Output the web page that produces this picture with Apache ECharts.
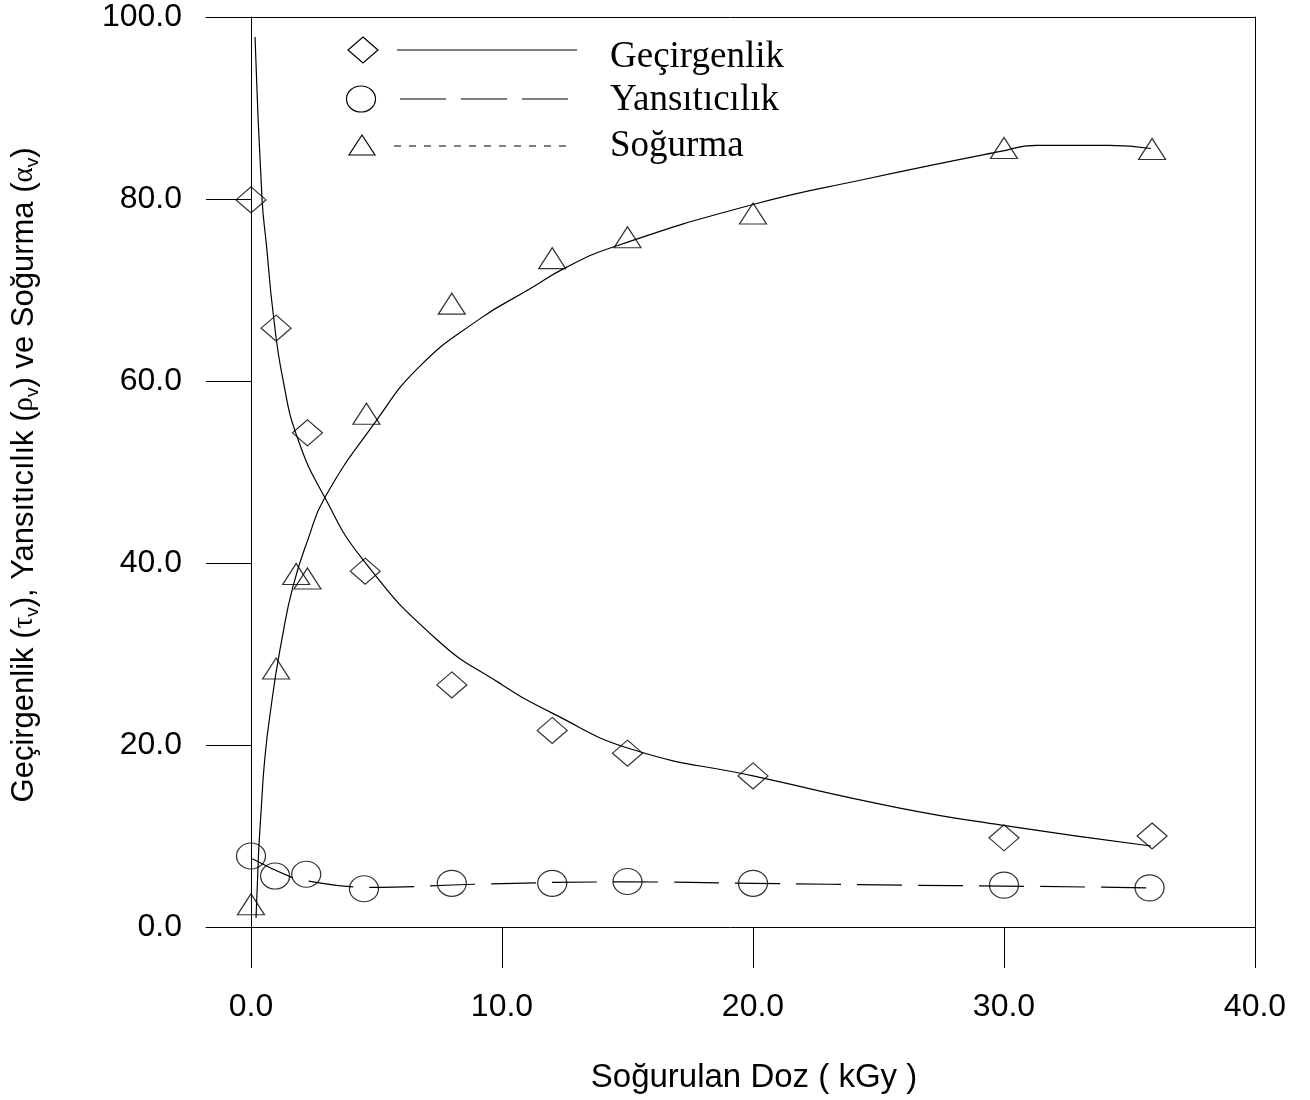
<!DOCTYPE html>
<html>
<head>
<meta charset="utf-8">
<script src="https://cdn.jsdelivr.net/npm/echarts@6/dist/echarts.min.js"></script>
<style>
html,body{margin:0;padding:0;background:#fff;}
#chart{width:1310px;height:1100px;}
</style>
</head>
<body>
<div id="chart"></div>
<script>
// ---- data ----
const doseT = [0, 1, 2.25, 4.55, 8, 12, 15, 20, 30, 35.9];
const gecirgenlik = [79.9, 65.8, 54.3, 39.1, 26.6, 21.6, 19.1, 16.6, 9.8, 10.0];
const doseR = [0, 0.96, 2.2, 4.5, 8, 12, 15, 20, 30, 35.8];
const yansiticilik = [7.8, 5.6, 5.8, 4.2, 4.8, 4.8, 5.0, 4.8, 4.6, 4.3];
const doseA = [0, 1, 1.8, 2.25, 4.6, 8, 12, 15, 20, 30, 35.9];
const sogurma = [2.5, 28.4, 38.8, 38.3, 56.4, 68.5, 73.5, 75.8, 78.4, 85.6, 85.5];

// fitted curves
const fitTx = [0.16, 0.44, 0.62, 0.88, 1.27, 1.87, 2.94, 4.45, 7.4, 9.9, 12.0, 15.2, 20, 25.8, 29.9, 35.85];
const fitTy = [97.8, 80.0, 74.8, 67.5, 60.2, 53.6, 47.2, 40.4, 31.6, 26.8, 23.5, 19.5, 16.6, 13.1, 11.2, 8.9];
const fitRx = [0.05, 1.67, 2.27, 4.06, 4.7, 8.9, 15, 20, 26, 30, 35.85];
const fitRy = [7.5, 5.4, 5.06, 4.4, 4.35, 4.7, 4.95, 4.8, 4.6, 4.5, 4.3];
const fitAx = [0.2, 0.48, 0.84, 1.23, 1.67, 2.27, 2.94, 4.93, 6.72, 9.1, 11.1, 12.5, 14.4, 20, 24.5, 29.8, 31.3, 34.2, 35.85];
const fitAy = [1.0, 16.2, 25.0, 31.6, 37.4, 42.6, 47.2, 55.4, 61.6, 66.8, 70.1, 72.4, 74.7, 79.4, 82.2, 85.2, 85.9, 85.9, 85.55];

const xTicks = [0, 10, 20, 30, 40];
const seriesNames = ['Geçirgenlik', 'Yansıtıcılık', 'Soğurma'];
const xTitle = 'Soğurulan Doz ( kGy )';

const zip = (a, b) => a.map((v, i) => [v, b[i]]);

const SANS = '"Liberation Sans", Arial, sans-serif';
const SERIF = '"Liberation Serif", "Times New Roman", serif';
const markerStyle = { color: 'rgba(0,0,0,0)', borderColor: '#000', borderWidth: 1.2 };
const lineBase = { color: '#000', width: 1.2 };

const chart = echarts.init(document.getElementById('chart'), null, { renderer: 'canvas' });

const option = {
  animation: false,
  backgroundColor: '#fff',
  grid: { left: 206, right: 55, top: 17, bottom: 173, containLabel: false },
  xAxis: [
    {
      type: 'value', min: -1.793, max: 40, position: 'bottom',
      axisLine: { show: true, onZero: false, lineStyle: { color: '#000', width: 1 } },
      axisTick: { show: true, customValues: xTicks, length: 41, inside: false, lineStyle: { color: '#000', width: 1 } },
      axisLabel: { customValues: xTicks, margin: 64, color: '#000', fontSize: 32, fontFamily: SANS,
        formatter: v => Number(v).toFixed(1) },
      splitLine: { show: false }
    },
    {
      type: 'value', min: -1.793, max: 40, position: 'top',
      axisLine: { show: true, onZero: false, lineStyle: { color: '#000', width: 1 } },
      axisTick: { show: false }, axisLabel: { show: false }, splitLine: { show: false }
    }
  ],
  yAxis: [
    {
      type: 'value', min: 0, max: 100, interval: 20,
      axisLine: { show: true, onZero: true, lineStyle: { color: '#000', width: 1 } },
      axisTick: { show: true, length: 45, inside: false, lineStyle: { color: '#000', width: 1 } },
      axisLabel: { margin: 24, color: '#000', fontSize: 32, fontFamily: SANS,
        formatter: v => Number(v).toFixed(1) },
      splitLine: { show: false }
    },
    {
      type: 'value', min: 0, max: 100, position: 'right',
      axisLine: { show: true, onZero: false, lineStyle: { color: '#000', width: 1 } },
      axisTick: { show: false }, axisLabel: { show: false }, splitLine: { show: false }
    }
  ],
  series: [
    { name: seriesNames[0] + ' fit', type: 'line', data: zip(fitTx, fitTy), showSymbol: false,
      smooth: 0.5, lineStyle: { ...lineBase }, z: 2 },
    { name: seriesNames[1] + ' fit', type: 'line', data: zip(fitRx, fitRy), showSymbol: false,
      smooth: 0.5, lineStyle: { ...lineBase, type: [45, 16] }, z: 2 },
    { name: seriesNames[2] + ' fit', type: 'line', data: zip(fitAx, fitAy), showSymbol: false,
      smooth: 0.5, lineStyle: { ...lineBase }, z: 2 },
    { name: seriesNames[0], type: 'scatter', data: zip(doseT, gecirgenlik), symbol: 'diamond',
      symbolSize: [30, 26], itemStyle: markerStyle, z: 3 },
    { name: seriesNames[1], type: 'scatter', data: zip(doseR, yansiticilik), symbol: 'circle',
      symbolSize: [29, 26], itemStyle: markerStyle, z: 3 },
    { name: seriesNames[2], type: 'scatter', data: zip(doseA, sogurma), symbol: 'triangle',
      symbolSize: [27, 21], itemStyle: markerStyle, z: 3 }
  ],
  graphic: [
    // legend symbols
    { type: 'polygon', shape: { points: [[363, 37], [378, 50], [363, 63], [348, 50]] },
      style: { fill: 'none', stroke: '#000', lineWidth: 1.2 } },
    { type: 'ellipse', shape: { cx: 361, cy: 99, rx: 14.5, ry: 13 },
      style: { fill: 'none', stroke: '#000', lineWidth: 1.2 } },
    { type: 'polygon', shape: { points: [[362, 135], [375, 155], [349, 155]] },
      style: { fill: 'none', stroke: '#000', lineWidth: 1.2 } },
    { type: 'line', shape: { x1: 397, y1: 50, x2: 577, y2: 50 }, style: { stroke: '#000', lineWidth: 1.2 } },
    { type: 'line', shape: { x1: 400, y1: 99, x2: 573, y2: 99 }, style: { stroke: '#000', lineWidth: 1.2, lineDash: [46, 15] } },
    { type: 'line', shape: { x1: 394, y1: 146, x2: 571, y2: 146 }, style: { stroke: '#000', lineWidth: 1.2, lineDash: [7, 8] } },
    { type: 'text', x: 610, y: 57, style: { text: seriesNames[0], fontSize: 37, fontFamily: SERIF, fill: '#000', align: 'left', verticalAlign: 'middle' } },
    { type: 'text', x: 610, y: 100, style: { text: seriesNames[1], fontSize: 37, fontFamily: SERIF, fill: '#000', align: 'left', verticalAlign: 'middle' } },
    { type: 'text', x: 610, y: 146, style: { text: seriesNames[2], fontSize: 37, fontFamily: SERIF, fill: '#000', align: 'left', verticalAlign: 'middle' } },
    // x axis title
    { type: 'text', x: 754, y: 1078, style: { text: xTitle, fontSize: 33, fontFamily: SANS, fill: '#000', align: 'center', verticalAlign: 'middle' } },
    // y axis title (rotated, with subscripts)
    { type: 'text', x: 24, y: 475, rotation: Math.PI / 2,
      style: {
        text: '{n|Geçirgenlik (}{g|τ}{s|v}{n|), Yansıtıcılık (}{g|ρ}{s|v}{n|) ve Soğurma (}{g|α}{s|v}{n|)}',
        align: 'center', verticalAlign: 'middle', fill: '#000',
        rich: {
          n: { fontSize: 31, fontFamily: SANS, lineHeight: 36, verticalAlign: 'middle' },
          g: { fontSize: 29, fontFamily: SERIF, lineHeight: 36, verticalAlign: 'middle' },
          s: { fontSize: 19, fontFamily: SANS, lineHeight: 20, verticalAlign: 'bottom' }
        }
      } }
  ]
};
chart.setOption(option);
</script>
</body>
</html>
